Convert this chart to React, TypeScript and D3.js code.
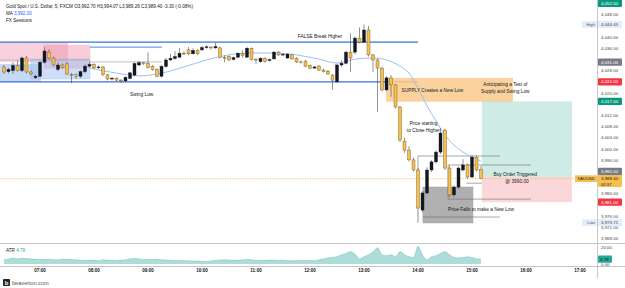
import React from 'react';
import * as d3 from 'd3';

// ---------- data ----------
const START = new Date(2025, 0, 6, 6, 20);
const BAR_MINUTES = 5;

const opens = [
  4029.3, 4027.6, 4028.0, 4029.8, 4028.0, 4032.5, 4027.5, 4025.5, 4026.0, 4031.0,
  4034.6, 4032.5, 4028.4, 4030.0, 4030.4, 4026.6, 4026.5, 4026.0, 4027.6, 4029.6,
  4030.2, 4029.0, 4029.3, 4026.5, 4025.0, 4025.3, 4024.6, 4024.3, 4025.2, 4026.4,
  4030.0, 4030.8, 4030.5, 4029.5, 4028.4, 4026.0, 4029.5, 4031.8, 4032.3, 4032.8,
  4034.2, 4035.4, 4034.0, 4035.2, 4035.4, 4036.2, 4036.4, 4036.1, 4036.1, 4032.8,
  4033.0, 4032.0, 4032.8, 4034.2, 4032.8, 4036.0, 4032.0, 4031.2, 4032.4, 4031.6,
  4032.2, 4034.6, 4033.6, 4032.5, 4033.6, 4032.4, 4031.1, 4031.4, 4029.8, 4028.9,
  4029.6, 4028.2, 4027.8, 4026.4, 4024.0, 4030.0, 4030.6, 4034.6, 4034.6, 4039.6,
  4038.2, 4042.5, 4033.6, 4031.8, 4028.9, 4021.1, 4025.4, 4022.9, 4015.0, 4002.8,
  3999.6, 3996.1, 3992.5, 3978.2, 3984.3, 3992.5, 3995.4, 3998.9, 4006.8, 3993.2,
  3983.6, 3986.4, 3992.5, 3994.3, 3990.0, 3997.1, 3992.7,
];
const highs = [
  4030.0, 4029.0, 4031.0, 4031.6, 4033.0, 4033.2, 4028.0, 4026.6, 4031.5, 4036.4,
  4035.6, 4033.0, 4031.0, 4030.6, 4031.0, 4027.2, 4027.0, 4028.0, 4030.2, 4031.0,
  4030.6, 4029.8, 4029.6, 4026.8, 4025.8, 4025.6, 4025.0, 4026.0, 4027.6, 4031.0,
  4031.5, 4031.0, 4034.5, 4030.0, 4028.8, 4030.0, 4032.5, 4034.0, 4035.0, 4036.0,
  4035.0, 4036.4, 4036.0, 4035.6, 4036.8, 4037.0, 4036.8, 4037.9, 4036.6, 4033.4,
  4033.4, 4033.0, 4034.6, 4035.2, 4036.5, 4036.3, 4032.4, 4032.8, 4032.8, 4032.3,
  4035.0, 4035.0, 4034.2, 4034.2, 4034.0, 4032.8, 4031.6, 4031.8, 4030.2, 4029.6,
  4030.0, 4028.6, 4028.2, 4026.8, 4030.4, 4031.6, 4035.0, 4041.3, 4040.2, 4043.4,
  4044.45, 4044.0, 4034.0, 4032.2, 4029.4, 4026.0, 4026.4, 4023.2, 4015.4, 4004.0,
  4001.0, 3997.0, 3993.2, 3985.0, 3993.5, 3996.0, 3999.5, 4007.5, 4007.2, 3994.0,
  3987.0, 3993.8, 3996.4, 3994.8, 3997.8, 3997.6, 3994.07,
];
const lows = [
  4026.8, 4027.0, 4026.8, 4027.6, 4027.4, 4027.0, 4026.4, 4025.0, 4025.6, 4030.5,
  4032.0, 4029.5, 4027.8, 4028.5, 4026.4, 4023.5, 4025.0, 4025.4, 4027.0, 4029.2,
  4028.5, 4028.5, 4026.0, 4024.5, 4024.5, 4024.2, 4023.6, 4023.8, 4024.9, 4026.0,
  4029.5, 4030.0, 4028.8, 4028.0, 4025.6, 4025.5, 4029.0, 4031.5, 4032.0, 4032.5,
  4033.5, 4033.5, 4033.8, 4033.5, 4035.0, 4035.8, 4035.5, 4035.8, 4032.4, 4031.0,
  4031.4, 4031.6, 4032.4, 4032.6, 4032.5, 4031.6, 4030.4, 4030.8, 4030.8, 4031.3,
  4031.8, 4033.2, 4033.3, 4032.2, 4031.8, 4030.7, 4030.5, 4029.2, 4028.5, 4028.6,
  4027.8, 4027.3, 4026.4, 4021.2, 4023.5, 4029.4, 4030.2, 4027.5, 4033.8, 4037.8,
  4037.8, 4033.0, 4027.5, 4013.2, 4020.6, 4020.7, 4018.6, 4014.5, 4002.5, 3998.6,
  3995.5, 3992.0, 3973.71, 3977.5, 3983.8, 3991.8, 3994.8, 3998.2, 3992.5, 3983.0,
  3983.0, 3985.8, 3992.0, 3989.3, 3989.6, 3992.0, 3989.26,
];
const closes = [
  4027.5, 4028.4, 4029.8, 4028.0, 4032.5, 4027.5, 4026.8, 4026.0, 4031.0, 4035.0,
  4032.5, 4030.0, 4030.0, 4029.0, 4026.8, 4026.3, 4026.0, 4027.6, 4029.6, 4030.2,
  4029.0, 4029.3, 4026.6, 4025.0, 4025.3, 4024.6, 4024.3, 4025.6, 4027.2, 4030.5,
  4030.8, 4030.5, 4029.0, 4028.5, 4026.0, 4029.5, 4031.8, 4032.4, 4033.0, 4034.2,
  4034.0, 4034.0, 4035.2, 4034.0, 4036.2, 4036.5, 4036.1, 4036.6, 4032.8, 4032.4,
  4031.8, 4032.6, 4034.2, 4033.3, 4036.0, 4032.0, 4031.8, 4032.4, 4031.3, 4031.9,
  4034.6, 4033.6, 4033.8, 4033.9, 4032.2, 4031.1, 4031.0, 4029.6, 4028.9, 4029.3,
  4028.2, 4027.6, 4026.8, 4024.6, 4030.0, 4030.6, 4034.6, 4032.5, 4039.6, 4038.2,
  4042.5, 4033.6, 4031.8, 4028.9, 4021.1, 4025.4, 4022.9, 4015.0, 4003.2, 3999.6,
  3996.1, 3992.5, 3978.9, 3984.3, 3992.5, 3995.4, 3998.9, 4005.7, 3993.2, 3983.6,
  3986.4, 3993.2, 3994.3, 3990.0, 3997.1, 3992.5, 3989.4,
];
const atr = [
  4.0, 5.0, 6.0, 5.2, 5.8, 5.6, 5.2, 4.6, 4.4, 4.6,
  4.8, 4.2, 4.0, 5.0, 4.6, 4.4, 4.0, 3.4, 3.2, 3.6,
  3.4, 3.2, 4.2, 3.6, 3.4, 3.2, 3.6, 4.0, 5.2, 6.0,
  5.0, 4.4, 4.2, 4.4, 4.6, 4.0, 3.8, 3.4, 3.2, 3.0,
  3.2, 2.8, 2.6, 2.4, 2.2, 2.0, 2.8, 3.4, 3.8, 4.0,
  3.8, 3.6, 3.6, 4.0, 4.4, 4.0, 3.4, 3.2, 3.4, 3.6,
  3.4, 3.2, 3.4, 3.0, 2.8, 3.0, 3.2, 3.2, 3.2, 3.0,
  4.0, 5.2, 6.2, 7.1, 7.9, 10.3, 12.0, 14.3, 11.1, 5.2,
  7.9, 10.3, 14.0, 19.0, 10.3, 9.1, 10.3, 7.9, 14.3, 10.3,
  7.9, 7.1, 21.0, 10.3, 4.0, 7.9, 9.1, 12.0, 14.3, 10.3,
  7.1, 6.4, 7.1, 7.9, 7.0, 5.2, 4.79,
];
// MA line (bar index, value)
const maBars = [19, 25, 30, 35, 40, 45, 50, 55, 60, 65, 70, 74, 78, 82, 85, 88, 90, 92, 94, 96, 98, 100, 102, 104, 106];
const maValues = [4028.9, 4027.1, 4026.1, 4027.1, 4029.3, 4031.8, 4033.6, 4034.3, 4034.3, 4033.6, 4032.1, 4030.7, 4032.1, 4032.5, 4031.8, 4029.6, 4027.1, 4021.8, 4015.4, 4010.0, 4005.0, 4001.4, 3998.9, 3997.1, 3995.7];

const timeTicks = ['07:00', '08:00', '09:00', '10:00', '11:00', '12:00', '13:00', '14:00', '15:00', '16:00', '17:00'];
const priceTicks = [4048, 4040, 4036, 4028, 4020, 4012, 4008, 4004, 4000, 3996, 3984, 3976, 3972, 3968];

const markerPrices = [4052.0, 4031.0, 4024.0, 4017.0, 3992.0, 3981.0];
const markerKinds = ['green', 'grey', 'red', 'green', 'grey', 'red'];

const entryPrice = 3990.0;
const targetPrice = 4017.0;
const stopPrice = 3981.0;
const lastPrice = 3989.4;
const highPrice = 4044.45;
const lowPrice = 3973.71;
const atrLast = 4.79;

// ---------- layout ----------
const W = 625;
const H = 288;
const AXIS_X = 597.5;
const FONT = '"Liberation Sans", Arial, sans-serif';
const YELLOW = '#f6bf4e';
const DARK = '#131722';

const fmt = d3.format(',.2f');
const barTime = (i: number) => new Date(START.getTime() + i * BAR_MINUTES * 60000);
const hm = (h: number, m = 0) => new Date(2025, 0, 6, h, m);

export default function App() {
  const x = d3.scaleTime().domain([hm(6), hm(17)]).range([-14, 580]);
  const y = d3.scaleLinear().domain([4000, 4050]).range([149, 9]);
  const yAtr = d3.scaleLinear().domain([0, 20]).range([263, 247]);
  const xi = (i: number) => x(barTime(i));

  const maLine = d3.line<number>()
    .x((_, k) => xi(maBars[k]))
    .y((v) => y(v))
    .curve(d3.curveMonotoneX)(maValues) || '';

  const atrArea = d3.area<number>()
    .x((_, i) => xi(i))
    .y0(264)
    .y1((v) => yAtr(v))
    .curve(d3.curveMonotoneX)(atr) || '';
  const atrLine = d3.line<number>()
    .x((_, i) => xi(i))
    .y((v) => yAtr(v))
    .curve(d3.curveMonotoneX)(atr) || '';

  const rectP = (i0: number, i1: number, p0: number, p1: number) => ({
    x: xi(i0), y: y(Math.max(p0, p1)), width: xi(i1) - xi(i0), height: Math.abs(y(p0) - y(p1)),
  });
  const hline = (i0: number, i1: number, p: number) => ({ x1: xi(i0), x2: xi(i1), y1: y(p), y2: y(p) });

  const kindStyle: Record<string, { bg: string; fg: string }> = {
    green: { bg: '#089981', fg: '#ffffff' },
    grey: { bg: '#787b86', fg: '#ffffff' },
    red: { bg: '#f23645', fg: '#ffffff' },
  };

  const visibleTicks = priceTicks.filter((p) => y(p) > 3 && y(p) < 241);

  return (
    <svg width={W} height={H} style={{ position: 'absolute', left: 0, top: 0, background: '#fff', fontFamily: FONT }}>
      <rect x={0} y={0} width={W} height={H} fill="#ffffff" />
      <defs>
        <clipPath id="main"><rect x={0} y={0} width={AXIS_X} height={243} /></clipPath>
        <clipPath id="atr"><rect x={0} y={244} width={AXIS_X} height={22} /></clipPath>
      </defs>

      <g clipPath="url(#main)">
        {/* session boxes */}
        <rect {...rectP(-1, 14.2, 4038.2, 4031.1)} fill="#f7c6d3" opacity={0.8} />
        <rect {...rectP(8.9, 19.1, 4037.1, 4028.9)} fill="#f08fab" opacity={0.45} stroke="#e87d9c" strokeWidth={0.6} />
        <rect {...rectP(-1, 8.2, 4030.4, 4023.9)} fill="#bcd2f3" opacity={0.85} />
        <rect {...rectP(6, 19.1, 4032.1, 4025.0)} fill="#a9c4f0" opacity={0.55} stroke="#7aa3e8" strokeWidth={0.6} />
        <line {...hline(19.1, 35.1, 4036.4)} stroke="#6f9cf0" strokeWidth={1.2} />
        <line {...hline(19.1, 35.1, 4031.1)} stroke="#9a9a9a" strokeWidth={0.6} />
        <line {...hline(-1, 19.1, 4031.8)} stroke="#a0a0a0" strokeWidth={0.5} />

        {/* key levels */}
        <line {...hline(-1, 92, 4038.2)} stroke="#3d6fd8" strokeWidth={1.3} />
        <line {...hline(-1, 85.1, 4024.0)} stroke="#3d6fd8" strokeWidth={1.3} />
        <line {...hline(85.1, 92, 4024.0)} stroke="#9a9a9a" strokeWidth={0.6} />

        {/* supply zone */}
        <rect {...rectP(84.9, 113.1, 4025.4, 4016.9)} fill="#f9b45c" opacity={0.6} />

        {/* long position */}
        <rect {...rectP(106.2, 126.2, targetPrice, entryPrice)} fill="#089981" opacity={0.2} />
        <rect {...rectP(106.2, 126.2, entryPrice, stopPrice)} fill="#f23645" opacity={0.2} />

        {/* grey new-low box */}
        <rect {...rectP(93.1, 104.2, 3986.4, 3973.6)} fill="#8f8f8f" opacity={0.7} stroke="#777" strokeWidth={0.6} />

        {/* range lines */}
        <g stroke="#6b6b6b" strokeWidth={0.6}>
          <line {...hline(92, 110.2, 3997.5)} />
          <line x1={xi(92)} x2={xi(92)} y1={y(3997.5)} y2={y(3992.5)} />
          <line {...hline(98.7, 117.1, 3994.3)} />
          <line x1={xi(98.7)} x2={xi(98.7)} y1={y(3994.3)} y2={y(3982.1)} />
          <line {...hline(98.7, 117.1, 3982.1)} />
          <line {...hline(93.1, 110.2, 3975.7)} />
          <line {...hline(102.8, 106.2, 3987.8)} />
        </g>

        {/* current price dotted line */}
        <line x1={0} x2={AXIS_X} y1={y(lastPrice)} y2={y(lastPrice)} stroke="#f0b429" strokeWidth={0.8} strokeDasharray="1 1.5" />

        {/* MA */}
        <path d={maLine} fill="none" stroke="#8fb8f5" strokeWidth={0.9} />

        {/* candles */}
        {closes.map((c, i) => {
          const o = opens[i];
          const up = c >= o;
          const cx = xi(i);
          const top = y(Math.max(o, c));
          const h = Math.max(0.7, Math.abs(y(o) - y(c)));
          return (
            <g key={i}>
              <line x1={cx} x2={cx} y1={y(highs[i])} y2={y(lows[i])} stroke="#4a4a4a" strokeWidth={0.6} />
              <rect x={cx - 1.5} y={top} width={3} height={h}
                fill={up ? DARK : YELLOW} stroke={up ? DARK : '#6b5520'} strokeWidth={0.4} />
            </g>
          );
        })}

        {/* annotations */}
        <g fontSize={4.8} fill={DARK} textAnchor="middle">
          <text x={xi(70.2)} y={37.5}>FALSE Break Higher</text>
          <text x={xi(30.6)} y={95.5}>Swing Low</text>
          <text x={xi(95.2)} y={92}>SUPPLY Creates a New Low</text>
          <text x={xi(111.4)} y={85.5}>Anticipating a Test of</text>
          <text x={xi(111.4)} y={92.5}>Supply and Swing Low</text>
          <text x={xi(93.2)} y={125}>Price starting</text>
          <text x={xi(93.2)} y={131.5}>to Close Higher</text>
          <text x={xi(113.6)} y={175.5}>Buy Order Triggered</text>
          <text x={xi(114)} y={183}>@ 3990.00</text>
          <text x={xi(106)} y={210.5}>Price Falls to make a New Low</text>
        </g>
      </g>

      {/* ATR pane */}
      <g clipPath="url(#atr)">
        <path d={atrArea} fill="#26a69a" opacity={0.38} />
        <path d={atrLine} fill="none" stroke="#26a69a" strokeOpacity={0.45} strokeWidth={0.6} />
      </g>

      {/* frame lines */}
      <line x1={0} x2={W} y1={243.5} y2={243.5} stroke="#b8b8b8" strokeWidth={0.8} />
      <line x1={0} x2={W} y1={266.5} y2={266.5} stroke="#b8b8b8" strokeWidth={0.8} />
      <line x1={AXIS_X} x2={AXIS_X} y1={0} y2={278} stroke="#b8b8b8" strokeWidth={0.8} />

      {/* legend */}
      <g fontSize={4.6} fill={DARK}>
        <text x={6} y={8}>Gold Spot / U.S. Dollar, 5, FXCM  O3,992.70  H3,994.07  L3,989.26  C3,989.40  -3.30 (-0.08%)</text>
        <text x={6} y={15}>MA <tspan fill="#2962ff">3,992.00</tspan></text>
        <text x={6} y={21.5}>FX Sessions</text>
        <text x={6} y={251.5}>ATR <tspan fill="#26a69a">4.79</tspan></text>
      </g>

      {/* price axis */}
      <g fontSize={4.4} fill="#444">
        {visibleTicks.map((p) => (
          <text key={p} x={601} y={y(p) + 1.6}>{fmt(p)}</text>
        ))}
      </g>
      {markerPrices.map((p, k) => {
        const s = kindStyle[markerKinds[k]];
        return (
          <g key={k}>
            <rect x={598} y={y(p) - 3.6} width={24} height={7.2} fill={s.bg} rx={0.8} />
            <text x={601} y={y(p) + 1.6} fontSize={4.4} fill={s.fg}>{fmt(p)}</text>
          </g>
        );
      })}
      {/* high / low */}
      {[{ p: highPrice, t: 'High' }, { p: lowPrice, t: 'Low' }].map((d) => (
        <g key={d.t}>
          <rect x={582} y={y(d.p) - 3.3} width={15} height={6.6} fill="#e3ecfb" />
          <text x={595} y={y(d.p) + 1.5} fontSize={4.2} fill="#555" textAnchor="end">{d.t}</text>
          <rect x={598} y={y(d.p) - 3.6} width={24} height={7.2} fill="#e3ecfb" />
          <text x={601} y={y(d.p) + 1.6} fontSize={4.4} fill="#444">{fmt(d.p)}</text>
        </g>
      ))}
      {/* last price */}
      <rect x={575} y={y(lastPrice) - 3.3} width={22} height={6.6} fill={YELLOW} />
      <text x={586} y={y(lastPrice) + 1.5} fontSize={4.2} fill={DARK} textAnchor="middle">XAUUSD</text>
      <rect x={598} y={y(lastPrice) - 3.8} width={24} height={12} fill={YELLOW} rx={0.8} />
      <text x={601} y={y(lastPrice) + 1.6} fontSize={4.4} fill={DARK}>{fmt(lastPrice)}</text>
      <text x={601} y={y(lastPrice) + 7} fontSize={4.2} fill={DARK}>02:37</text>

      {/* ATR axis */}
      <text x={601} y={yAtr(20) + 1.6} fontSize={4.4} fill="#444">20.00</text>
      <text x={601} y={yAtr(0) + 2.5} fontSize={4.4} fill="#444">0.00</text>
      <rect x={598} y={yAtr(atrLast) - 3.6} width={14} height={7.2} fill="#22ab94" rx={0.8} />
      <text x={600} y={yAtr(atrLast) + 1.6} fontSize={4.4} fill={DARK}>{fmt(atrLast)}</text>

      {/* time axis */}
      <g fontSize={4.6} fill={DARK} fontWeight="bold" textAnchor="middle">
        {timeTicks.map((t) => {
          const [hh, mm] = t.split(':').map(Number);
          return <text key={t} x={x(hm(hh, mm))} y={272}>{t}</text>;
        })}
      </g>

      {/* footer */}
      <rect x={3} y={279} width={7} height={7} fill="#1e222d" rx={1} />
      <text x={6.5} y={285} fontSize={6} fill="#fff" textAnchor="middle" fontWeight="bold">b</text>
      <text x={12} y={285} fontSize={5.6} fill="#555">beaverion.com</text>
    </svg>
  );
}
